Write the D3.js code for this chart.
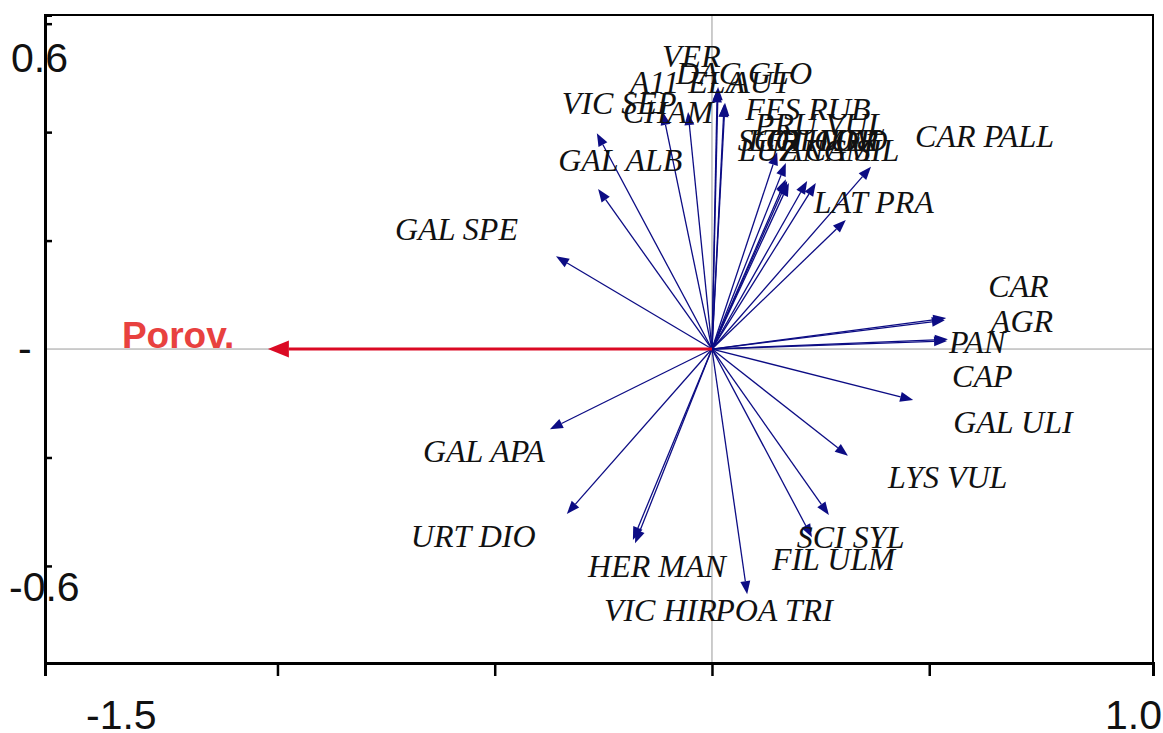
<!DOCTYPE html>
<html>
<head>
<meta charset="utf-8">
<script src="https://cdn.jsdelivr.net/npm/d3@7"></script>
<style>
    html, body { margin: 0; padding: 0; background: #fff; }
    .species { font-family: "Liberation Serif", "Times New Roman", serif; font-style: italic; font-size: 32px; fill: #111; }
    .tick-label { font-family: "Liberation Sans", Arial, sans-serif; font-size: 41px; fill: #111; }
    .env-label { font-family: "Liberation Sans", Arial, sans-serif; font-weight: bold; font-size: 37px; fill: #e8413f; }
</style>
</head>
<body>
<svg id="chart" width="1163" height="733"></svg>
<script>
// Species scores (axis 1, axis 2)
const species = ["GAL SPE", "GAL ALB", "VIC SEP", "CHAM", "A11", "VER", "DAC GLO", "ELA", "AUT",
    "FES RUB", "PRU VUL", "SCO HUM", "LOT COR", "LUZ CAM", "TRI MED", "ANG SIL", "CAR PALL", "LAT PRA",
    "CAR", "AGR", "PAN", "CAP", "GAL ULI", "LYS VUL", "SCI SYL", "FIL ULM", "POA TRI",
    "HER MAN", "VIC HIR", "URT DIO", "GAL APA"];
const axis1 = [-0.359, -0.262, -0.265, -0.113, -0.055, 0.014, 0.030, 0.012, 0.028,
    0.150, 0.170, 0.170, 0.177, 0.173, 0.219, 0.239, 0.366, 0.308,
    0.539, 0.536, 0.543, 0.541, 0.463, 0.313, 0.269, 0.230, 0.081,
    -0.177, -0.182, -0.334, -0.373];
const axis2 = [0.171, 0.295, 0.398, 0.437, 0.437, 0.483, 0.454, 0.479, 0.452,
    0.363, 0.343, 0.313, 0.306, 0.310, 0.310, 0.306, 0.336, 0.238,
    0.057, 0.053, 0.018, 0.015, -0.094, -0.197, -0.306, -0.347, -0.452,
    -0.358, -0.352, -0.304, -0.148];

// Environmental variable
const envNames = ["Porov."];
const envAxis1 = [-1.022];
const envAxis2 = [0.0];

// Axis ticks
const xTicks = [-1.0, -0.5, 0.0, 0.5];
const yTicks = [-0.4, -0.2, 0.2, 0.4, 0.6];
const xEndLabels = ["-1.5", "1.0"];
const yEndLabels = ["0.6", "-", "-0.6"];

// Label placement relative to arrow tip (pixels, baseline-left) - hand tuned like CanoDraw
const labelOffsets = {
    "GAL SPE": [-161, -16], "GAL ALB": [-40, -18], "VIC SEP": [-35, -19], "CHAM": [-40, 11],
    "A11": [-58, -19], "VER": [-56, -20], "DAC GLO": [-49, -19], "ELA": [-29, 4], "AUT": [6, -11],
    "FES RUB": [-32, -32], "PRU VUL": [-31, -28], "SCO HUM": [-48, -28], "LOT COR": [-41, -32],
    "LUZ CAM": [-49, -20], "TRI MED": [-45, -30], "ANG SIL": [-33, -22], "CAR PALL": [44, -20],
    "LAT PRA": [-32, -7], "CAR": [42, -21], "AGR": [46, 12], "PAN": [1, 14], "CAP": [5, 46],
    "GAL ULI": [40, 33], "LYS VUL": [40, 32], "SCI SYL": [-32, 33], "FIL ULM": [-40, 33],
    "POA TRI": [-32, 27], "HER MAN": [-47, 34], "VIC HIR": [-29, 81], "URT DIO": [-156, 33],
    "GAL APA": [-127, 33], "Porov.": [-146, -1]
};

const svg = d3.select("#chart");
const plotLeft = 45, plotRight = 1153, plotTop = 15, plotBottom = 663;

// origin sits at (712, 349) in the reference
const x = d3.scaleLinear().domain([-1.535, 1.015]).range([plotLeft, plotRight]);
const y = d3.scaleLinear().domain([-0.579, 0.616]).range([plotBottom, plotTop]);

// zero lines
svg.append("line")
    .attr("x1", plotLeft).attr("x2", plotRight)
    .attr("y1", y(0)).attr("y2", y(0))
    .attr("stroke", "#9a9a9a").attr("stroke-width", 1);
svg.append("line")
    .attr("x1", x(0)).attr("x2", x(0))
    .attr("y1", plotTop).attr("y2", plotBottom)
    .attr("stroke", "#9a9a9a").attr("stroke-width", 1);

// frame
svg.append("rect")
    .attr("x", plotLeft).attr("y", plotTop)
    .attr("width", plotRight - plotLeft).attr("height", plotBottom - plotTop)
    .attr("fill", "none").attr("stroke", "#000").attr("stroke-width", 2);

// left and bottom axes (thicker), ticks
const yAxis = d3.axisLeft(y).tickValues(yTicks).tickSize(-7).tickFormat("");
svg.append("g").attr("transform", `translate(${plotLeft},0)`).call(yAxis)
    .call(g => g.select(".domain").attr("stroke-width", 3))
    .call(g => g.selectAll(".tick line").attr("stroke-width", 2.5).attr("x1", 2));

const xAxis = d3.axisBottom(x).tickValues(xTicks).tickSize(13).tickFormat("");
svg.append("g").attr("transform", `translate(0,${plotBottom})`).call(xAxis)
    .call(g => g.select(".domain").attr("stroke-width", 3))
    .call(g => g.selectAll(".tick line").attr("stroke-width", 2.5));

// axis end labels
svg.append("text").attr("class", "tick-label").attr("x", 86).attr("y", 729).text(xEndLabels[0]);
svg.append("text").attr("class", "tick-label").attr("x", 1162).attr("y", 729)
    .attr("text-anchor", "end").text(xEndLabels[1]);
svg.append("text").attr("class", "tick-label").attr("x", 11).attr("y", 72).text(yEndLabels[0]);
svg.append("text").attr("class", "tick-label").attr("x", 18).attr("y", 362).text(yEndLabels[1]);
svg.append("text").attr("class", "tick-label").attr("x", 9).attr("y", 601).text(yEndLabels[2]);

// arrow helper: line plus filled head
function arrow(g, x1, y1, color, width, headLen, headHalf) {
    const x0 = x(0), y0 = y(0);
    const ang = Math.atan2(y1 - y0, x1 - x0);
    const bx = x1 - headLen * Math.cos(ang), by = y1 - headLen * Math.sin(ang);
    g.append("line")
        .attr("x1", x0).attr("y1", y0).attr("x2", bx).attr("y2", by)
        .attr("stroke", color).attr("stroke-width", width);
    const px = -Math.sin(ang) * headHalf, py = Math.cos(ang) * headHalf;
    g.append("path")
        .attr("d", `M${x1},${y1}L${bx + px},${by + py}L${bx - px},${by - py}Z`)
        .attr("fill", color);
}

const arrows = svg.append("g");
species.forEach((name, i) => {
    arrow(arrows, x(axis1[i]), y(axis2[i]), "#0c0c84", 1.3, 13, 5);
});

envNames.forEach((name, i) => {
    arrow(arrows, x(envAxis1[i]), y(envAxis2[i]), "#db0a24", 3, 21, 8.5);
});

// labels
const labels = svg.append("g");
species.forEach((name, i) => {
    const [dx, dy] = labelOffsets[name];
    labels.append("text")
        .attr("class", "species")
        .attr("x", x(axis1[i]) + dx)
        .attr("y", y(axis2[i]) + dy)
        .text(name);
});

envNames.forEach((name, i) => {
    const [dx, dy] = labelOffsets[name];
    labels.append("text")
        .attr("class", "env-label")
        .attr("x", x(envAxis1[i]) + dx)
        .attr("y", y(envAxis2[i]) + dy)
        .text(name);
});
</script>
</body>
</html>
